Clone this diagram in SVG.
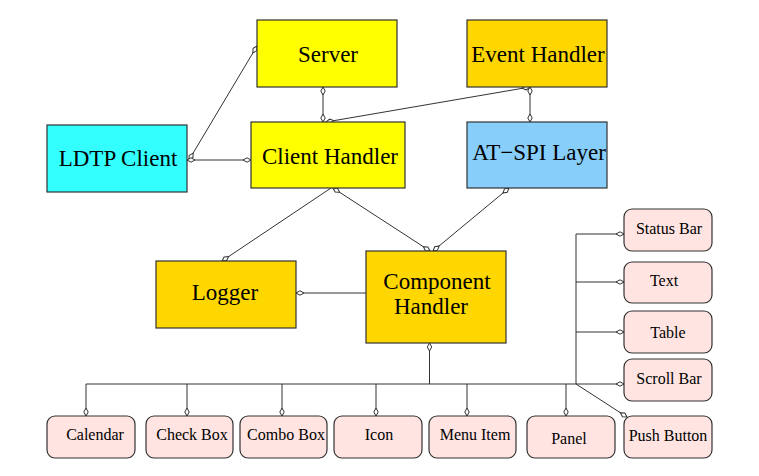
<svg xmlns="http://www.w3.org/2000/svg" width="759" height="476" viewBox="0 0 759 476">
<defs>
<style>
.box{stroke:#333;stroke-width:1.2}
.big{font-size:23px;fill:#000;text-anchor:middle}
.small{font-size:16px;fill:#000;text-anchor:middle}
.leaf{fill:#ffe4e1;stroke:#333;stroke-width:1.2}
.yel{fill:#ffff00}
.gold{fill:#ffd700}
.edge{fill:none;stroke:#333;stroke-width:1}
.both{marker-start:url(#dia);marker-end:url(#dia)}
.end{marker-end:url(#dia)}
.start{marker-start:url(#dia)}
</style>
<marker id="dia" viewBox="-1 -3 10 6" refX="8" refY="0" markerWidth="10" markerHeight="6" markerUnits="userSpaceOnUse" orient="auto-start-reverse">
<path d="M0,0 L4,-2.2 L8,0 L4,2.2 Z" fill="#fff" stroke="#333" stroke-width="1"/>
</marker>
</defs>
<rect width="759" height="476" fill="#fff"/>
<g id="connectors">
<line class="edge both" x1="189" y1="160" x2="257" y2="46"/>
<line class="edge both" x1="187" y1="160" x2="251" y2="160"/>
<line class="edge both" x1="323" y1="87" x2="323" y2="122"/>
<line class="edge both" x1="530" y1="87" x2="326" y2="122"/>
<line class="edge both" x1="530" y1="87" x2="530" y2="122"/>
<line class="edge end" x1="331" y1="188" x2="222" y2="261"/>
<line class="edge both" x1="333" y1="188" x2="430" y2="251"/>
<line class="edge both" x1="509" y1="188" x2="433" y2="251"/>
<line class="edge end" x1="366" y1="293" x2="296" y2="293"/>
<line class="edge start" x1="429.5" y1="343" x2="429.5" y2="384"/>
<line class="edge" x1="86" y1="384" x2="576" y2="384"/>
<line class="edge end" x1="86" y1="384" x2="86" y2="416"/>
<line class="edge end" x1="187" y1="384" x2="187" y2="416"/>
<line class="edge end" x1="282" y1="384" x2="282" y2="416"/>
<line class="edge end" x1="376" y1="384" x2="376" y2="416"/>
<line class="edge end" x1="467" y1="384" x2="467" y2="416"/>
<line class="edge end" x1="566" y1="384" x2="566" y2="416"/>
<line class="edge" x1="576" y1="234" x2="576" y2="384"/>
<line class="edge end" x1="576" y1="234" x2="624" y2="234"/>
<line class="edge end" x1="576" y1="282" x2="624" y2="282"/>
<line class="edge end" x1="576" y1="332" x2="624" y2="332"/>
<line class="edge end" x1="576" y1="384" x2="624" y2="384"/>
<line class="edge end" x1="576" y1="384" x2="627" y2="417"/>
</g>
<g font-family="Liberation Serif, Times New Roman, DejaVu Serif, serif">
<g id="server"><rect class="box yel" x="257" y="20" width="140" height="67"/><text class="big" x="328" y="62">Server</text></g>
<g id="event-handler"><rect class="box gold" x="467" y="20" width="140" height="67"/><text class="big" x="538" y="62">Event Handler</text></g>
<g id="ldtp-client"><rect class="box" fill="#33ffff" x="47" y="125" width="140" height="67"/><text class="big" x="118" y="166">LDTP Client</text></g>
<g id="client-handler"><rect class="box yel" x="251" y="122" width="154" height="66"/><text class="big" x="330" y="164">Client Handler</text></g>
<g id="at-spi"><rect class="box" fill="#87cefa" x="467" y="122" width="140" height="66"/><text class="big" x="539" y="160">AT−SPI Layer</text></g>
<g id="logger"><rect class="box gold" x="156" y="261" width="140" height="67"/><text class="big" x="225" y="300">Logger</text></g>
<g id="component-handler"><rect class="box gold" x="366" y="251" width="140" height="92"/><text class="big" x="437" y="289">Component</text><text class="big" x="431" y="314">Handler</text></g>
<g id="status-bar"><rect class="leaf" x="624" y="209" width="88" height="42" rx="8"/><text class="small" x="669" y="234">Status Bar</text></g>
<g id="text"><rect class="leaf" x="624" y="262" width="88" height="41" rx="8"/><text class="small" x="664" y="286">Text</text></g>
<g id="table"><rect class="leaf" x="624" y="311" width="88" height="42" rx="8"/><text class="small" x="668" y="338">Table</text></g>
<g id="scroll-bar"><rect class="leaf" x="624" y="359" width="88" height="42" rx="8"/><text class="small" x="669" y="384">Scroll Bar</text></g>
<g id="push-button"><rect class="leaf" x="624" y="416" width="88" height="42" rx="8"/><text class="small" x="668" y="441">Push Button</text></g>
<g id="calendar"><rect class="leaf" x="47" y="416" width="88" height="42" rx="8"/><text class="small" x="95" y="440">Calendar</text></g>
<g id="check-box"><rect class="leaf" x="146" y="416" width="87" height="42" rx="8"/><text class="small" x="192" y="440">Check Box</text></g>
<g id="combo-box"><rect class="leaf" x="240" y="416" width="87" height="42" rx="8"/><text class="small" x="286" y="440">Combo Box</text></g>
<g id="icon"><rect class="leaf" x="334" y="416" width="88" height="42" rx="8"/><text class="small" x="379" y="440">Icon</text></g>
<g id="menu-item"><rect class="leaf" x="429" y="416" width="87" height="42" rx="8"/><text class="small" x="475" y="440">Menu Item</text></g>
<g id="panel"><rect class="leaf" x="527" y="416" width="88" height="42" rx="8"/><text class="small" x="569" y="444">Panel</text></g>
</g>
</svg>
